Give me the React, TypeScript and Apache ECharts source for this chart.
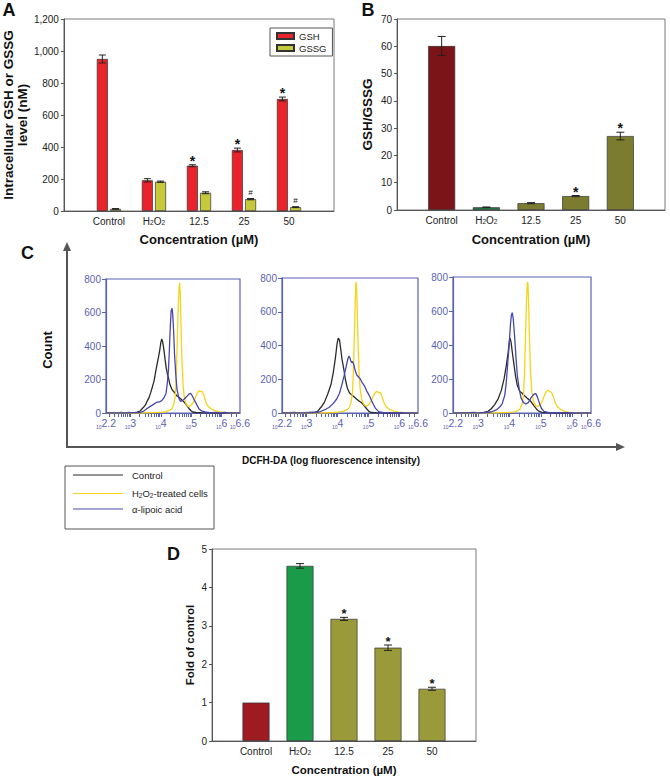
import React, { useEffect, useRef } from 'react';
import * as echarts from 'echarts';

// ---------- DATA ----------
const categories = ['Control', 'H2O2', '12.5', '25', '50'];

const gshValues = [950, 192, 283, 381, 700];
const gshErrors = [25, 10, 6, 12, 12];
const gshMarks = ['', '', '*', '*', '*'];
const gssgValues = [13, 183, 114, 74, 24];
const gssgErrors = [2, 4, 6, 4, 3];
const gssgMarks = ['', '', '', '#', '#'];

const ratioValues = [60.1, 1.0, 2.5, 5.1, 27.1];
const ratioErrors = [3.5, 0.1, 0.2, 0.2, 1.4];
const ratioMarks = ['', '', '', '*', '*'];

const foldValues = [1.0, 4.56, 3.18, 2.43, 1.36];
const foldErrors = [0, 0.06, 0.04, 0.07, 0.04];
const foldMarks = ['', '', '*', '*', '*'];

const flowXLabels = [2.2, 3, 4, 5, 6, 6.6];

// [log10 fluorescence, count]
const control1 = [[2.2,0],[2.45,2],[2.55,0],[2.7,4],[2.8,1],[2.95,3],[3.1,1],[3.22,5],[3.32,12],[3.43,34],[3.5,50],[3.56,74],[3.62,95],[3.67,123],[3.73,160],[3.78,193],[3.83,245],[3.88,293],[3.93,340],[3.97,382],[4.0,420],[4.03,442],[4.06,425],[4.1,380],[4.14,320],[4.18,265],[4.22,230],[4.25,210],[4.3,170],[4.36,143],[4.42,128],[4.47,118],[4.52,103],[4.58,95],[4.63,88],[4.68,80],[4.75,68],[4.83,52],[4.88,38],[4.94,24],[5.0,12],[5.05,6],[5.15,3],[5.4,1],[5.7,0],[6.6,0]];
const h2o2Cells1 = [[2.2,0],[3.5,0],[3.7,2],[3.9,4],[4.05,5],[4.14,6],[4.25,14],[4.36,24],[4.43,54],[4.48,113],[4.51,233],[4.54,432],[4.57,631],[4.6,750],[4.62,778],[4.64,710],[4.66,551],[4.69,332],[4.73,173],[4.77,94],[4.83,54],[4.9,38],[4.98,44],[5.07,64],[5.14,94],[5.21,123],[5.26,133],[5.32,127],[5.36,129],[5.42,103],[5.48,64],[5.56,38],[5.67,24],[5.78,14],[5.94,6],[6.16,2],[6.4,0],[6.6,0]];
const lipoic1 = [[2.2,0],[2.9,0],[3.1,2],[3.29,2],[3.43,10],[3.53,24],[3.64,38],[3.75,50],[3.86,64],[3.95,66],[4.03,74],[4.1,90],[4.17,117],[4.21,173],[4.25,253],[4.28,372],[4.31,511],[4.34,611],[4.37,625],[4.39,591],[4.42,491],[4.45,352],[4.49,233],[4.53,143],[4.59,90],[4.64,70],[4.71,74],[4.77,84],[4.85,98],[4.92,113],[4.98,117],[5.03,103],[5.1,78],[5.18,50],[5.25,26],[5.34,12],[5.45,6],[5.61,2],[5.8,4],[5.95,1],[6.1,3],[6.25,0],[6.6,0]];

const control2 = [[2.2,0],[2.6,3],[2.75,0],[2.9,2],[3.1,4],[3.25,3],[3.35,10],[3.46,34],[3.57,63],[3.68,113],[3.79,172],[3.86,241],[3.93,330],[3.98,409],[4.02,443],[4.06,433],[4.1,379],[4.14,320],[4.2,260],[4.25,200],[4.31,150],[4.38,120],[4.44,110],[4.52,98],[4.6,85],[4.68,72],[4.77,62],[4.85,45],[4.94,25],[5.01,10],[5.08,3],[5.3,1],[5.6,0],[6.6,0]];
const h2o2Cells2 = [[2.2,0],[3.6,0],[3.8,3],[4.0,5],[4.15,8],[4.26,15],[4.36,28],[4.43,58],[4.48,120],[4.51,250],[4.54,450],[4.57,650],[4.59,775],[4.61,760],[4.63,640],[4.66,420],[4.69,250],[4.73,140],[4.78,80],[4.85,50],[4.93,40],[5.0,48],[5.08,70],[5.15,100],[5.22,122],[5.28,128],[5.33,120],[5.38,122],[5.44,95],[5.5,60],[5.58,36],[5.68,22],[5.8,12],[5.95,5],[6.2,2],[6.6,0]];
const lipoic2 = [[2.2,0],[3.0,0],[3.2,3],[3.41,6],[3.57,18],[3.73,34],[3.86,57],[3.97,83],[4.06,117],[4.13,162],[4.21,221],[4.27,271],[4.33,320],[4.37,338],[4.4,325],[4.44,300],[4.48,305],[4.52,288],[4.57,250],[4.62,225],[4.67,215],[4.72,205],[4.78,185],[4.84,168],[4.88,156],[4.94,130],[5.0,112],[5.04,98],[5.1,72],[5.16,50],[5.21,32],[5.26,20],[5.33,8],[5.45,3],[5.7,1],[6.0,2],[6.3,0],[6.6,0]];

const control3 = [[2.2,0],[2.5,2],[2.7,0],[2.85,3],[3.05,1],[3.2,4],[3.32,10],[3.42,25],[3.53,49],[3.64,84],[3.74,133],[3.83,202],[3.9,280],[3.96,359],[4.0,427],[4.02,441],[4.05,418],[4.09,359],[4.14,290],[4.19,222],[4.25,163],[4.33,127],[4.4,118],[4.44,107],[4.5,98],[4.57,86],[4.65,75],[4.72,58],[4.79,40],[4.86,24],[4.93,11],[5.04,4],[5.3,1],[5.6,0],[6.6,0]];
const h2o2Cells3 = [[2.2,0],[3.6,0],[3.8,2],[4.0,4],[4.15,7],[4.25,12],[4.33,22],[4.4,50],[4.45,110],[4.48,240],[4.51,440],[4.54,640],[4.57,770],[4.59,760],[4.61,650],[4.64,430],[4.67,250],[4.71,130],[4.76,70],[4.83,45],[4.9,38],[4.98,48],[5.05,72],[5.12,105],[5.18,128],[5.24,133],[5.29,125],[5.34,122],[5.4,95],[5.46,60],[5.54,35],[5.64,20],[5.76,10],[5.92,4],[6.2,1],[6.6,0]];
const lipoic3 = [[2.2,0],[2.6,0],[2.8,2],[3.0,0],[3.2,3],[3.42,6],[3.58,18],[3.69,35],[3.77,55],[3.85,104],[3.9,182],[3.94,280],[3.99,398],[4.03,516],[4.06,575],[4.09,590],[4.12,555],[4.17,437],[4.21,320],[4.25,222],[4.31,143],[4.37,88],[4.45,61],[4.52,53],[4.6,61],[4.67,84],[4.73,100],[4.79,112],[4.84,114],[4.89,95],[4.96,55],[5.02,28],[5.1,10],[5.23,4],[5.5,1],[5.8,2],[6.1,0],[6.6,0]];

// ---------- STYLE ----------
const FONT = '"Liberation Sans", Arial, Helvetica, sans-serif';
const BLUE = '#5a62b3';
const AXIS = '#555';
const BOX = '#7a7a7a';
const TXT = '#222';
const ratioColors = ['#7a1418', '#1d7a3d', '#7c7c30', '#7c7c30', '#7c7c30'];
const foldColors = ['#9e1b22', '#1a9b4a', '#9a9a3a', '#9a9a3a', '#9a9a3a'];
const flowColors = { control: '#2a2a2a', h2o2: '#f6d41a', lipoic: '#4747ab' };

const subRich = {
  s: { fontSize: 6.5, verticalAlign: 'bottom', lineHeight: 7, color: TXT, fontFamily: FONT },
};

function catLabel(v: string) {
  return v === 'H2O2' ? 'H{s|2}O{s|2}' : v;
}

function catXAxis(gridIndex: number, nameGap: number, nameSize: number) {
  return {
    type: 'category',
    gridIndex,
    data: ['', ...categories, ''],
    boundaryGap: false,
    axisLine: { lineStyle: { color: AXIS, width: 1 } },
    axisTick: { show: false },
    axisLabel: { fontSize: 10, color: TXT, fontFamily: FONT, margin: 5, interval: 0, formatter: catLabel, rich: subRich },
    splitLine: { show: false },
    name: 'Concentration (µM)',
    nameLocation: 'middle',
    nameGap,
    nameTextStyle: { fontSize: nameSize, fontWeight: 'bold', color: '#111', fontFamily: FONT },
  };
}

function valYAxis(gridIndex: number, max: number, interval: number, name: string, nameGap: number, nameSize: number, lineHeight: number, formatter?: any) {
  return {
    type: 'value',
    gridIndex,
    min: 0,
    max,
    interval,
    axisLine: { show: true, lineStyle: { color: AXIS, width: 1 } },
    axisTick: { show: true, length: 3, lineStyle: { color: AXIS } },
    axisLabel: { fontSize: 10, color: TXT, fontFamily: FONT, margin: 5, formatter },
    splitLine: { show: false },
    name,
    nameLocation: 'middle',
    nameRotate: 90,
    nameGap,
    nameTextStyle: { fontSize: nameSize, fontWeight: 'bold', color: '#111', fontFamily: FONT, lineHeight },
  };
}

function errorSeries(axisIndex: number, values: number[], errors: number[], marks: string[], offset: number, capHalf: number, markSize: number) {
  return {
    type: 'custom',
    xAxisIndex: axisIndex,
    yAxisIndex: axisIndex,
    z: 5,
    clip: false,
    silent: true,
    data: values.map((v, i) => [i + 1, v, errors[i]]),
    renderItem: (params: any, api: any) => {
      const x = api.value(0);
      const v = api.value(1);
      const e = api.value(2);
      const top = api.coord([x, v + e]);
      const bot = api.coord([x, v - e]);
      const cx = top[0] + offset;
      const children: any[] = [];
      const st = { stroke: '#222', lineWidth: 1 };
      if (e > 0) {
        children.push({ type: 'line', shape: { x1: cx, y1: top[1], x2: cx, y2: bot[1] }, style: st });
        children.push({ type: 'line', shape: { x1: cx - capHalf, y1: top[1], x2: cx + capHalf, y2: top[1] }, style: st });
        children.push({ type: 'line', shape: { x1: cx - capHalf, y1: bot[1], x2: cx + capHalf, y2: bot[1] }, style: st });
      }
      const mark = marks[params.dataIndex];
      if (mark) {
        const isStar = mark === '*';
        children.push({
          type: 'text',
          x: cx,
          y: top[1] - (isStar ? 4 : 6),
          style: {
            text: mark,
            fill: '#111',
            font: `${isStar ? 'bold ' : ''}${isStar ? markSize : 8}px ${FONT}`,
            align: 'center',
            verticalAlign: 'middle',
          },
        });
      }
      return { type: 'group', children };
    },
  };
}

const flowTicks: number[] = [];
for (let k = 2; k <= 6; k++) {
  for (let m = 1; m <= 9; m++) {
    const t = Math.log10(m) + k;
    if (t > 2.2 + 1e-6 && t < 6.6 - 1e-6) flowTicks.push(t);
  }
}

function flowXAxis(gridIndex: number) {
  return {
    type: 'value',
    gridIndex,
    min: 2.2,
    max: 6.6,
    axisLine: { show: true, lineStyle: { color: BLUE, width: 1.2 } },
    axisTick: { show: true, customValues: flowTicks, length: 4, lineStyle: { color: BLUE, width: 1 } },
    axisLabel: {
      customValues: flowXLabels,
      margin: 4,
      formatter: (v: number) => `{a|10}{b|${v}}`,
      rich: {
        a: { fontSize: 5, verticalAlign: 'bottom', lineHeight: 6, color: BLUE, fontFamily: FONT },
        b: { fontSize: 10.5, lineHeight: 12, color: BLUE, fontFamily: FONT },
      },
    },
    splitLine: { show: false },
  };
}

function flowYAxis(gridIndex: number) {
  return {
    type: 'value',
    gridIndex,
    min: 0,
    max: 800,
    interval: 200,
    axisLine: { show: true, lineStyle: { color: BLUE, width: 1.2 } },
    axisTick: { show: true, length: 4, lineStyle: { color: BLUE } },
    axisLabel: { fontSize: 10, color: BLUE, fontFamily: FONT, margin: 5 },
    splitLine: { show: false },
  };
}

function flowLine(axisIndex: number, name: string, data: number[][], color: string) {
  return {
    type: 'line',
    name,
    xAxisIndex: axisIndex,
    yAxisIndex: axisIndex,
    data,
    showSymbol: false,
    symbol: 'none',
    smooth: false,
    lineStyle: { color, width: 1.3 },
    itemStyle: { color },
    silent: true,
  };
}

function letter(text: string, x: number, y: number) {
  return {
    type: 'text',
    x,
    y,
    style: { text, font: `bold 18px ${FONT}`, fill: '#111', align: 'center', verticalAlign: 'middle' },
  };
}

const App: React.FC = () => {
  const ref = useRef<HTMLDivElement>(null);

  useEffect(() => {
    if (!ref.current) return;
    const chart = echarts.init(ref.current, undefined, { renderer: 'svg' });

    const barBorder = { borderColor: '#333', borderWidth: 0.7 };

    const option: any = {
      animation: false,
      backgroundColor: '#fff',
      textStyle: { fontFamily: FONT },
      grid: [
        { left: 59, top: 19, width: 275, height: 192, show: true, borderColor: BOX, borderWidth: 1, backgroundColor: 'transparent' },
        { left: 397, top: 19, width: 268, height: 191, show: true, borderColor: BOX, borderWidth: 1, backgroundColor: 'transparent' },
        { left: 106, top: 279, width: 134, height: 134, show: true, borderColor: BLUE, borderWidth: 1.2, backgroundColor: 'transparent' },
        { left: 282, top: 278, width: 136, height: 135, show: true, borderColor: BLUE, borderWidth: 1.2, backgroundColor: 'transparent' },
        { left: 453, top: 277, width: 138, height: 136, show: true, borderColor: BLUE, borderWidth: 1.2, backgroundColor: 'transparent' },
        { left: 212, top: 549, width: 264, height: 193, show: true, borderColor: BOX, borderWidth: 1, backgroundColor: 'transparent' },
      ],
      xAxis: [
        catXAxis(0, 22, 13),
        catXAxis(1, 22.5, 13),
        flowXAxis(2),
        flowXAxis(3),
        flowXAxis(4),
        catXAxis(5, 23, 11.5),
      ],
      yAxis: [
        valYAxis(0, 1200, 200, 'Intracellular GSH or GSSG\nlevel (nM)', 28, 13.5, 14.5, (v: number) => v.toLocaleString('en-US')),
        valYAxis(1, 70, 10, 'GSH/GSSG', 23, 13.5, 14),
        flowYAxis(2),
        flowYAxis(3),
        flowYAxis(4),
        valYAxis(5, 5, 1, 'Fold of control', 16, 11.5, 12),
      ],
      legend: {
        data: ['GSH', 'GSSG'],
        orient: 'vertical',
        left: 270,
        top: 28,
        icon: 'rect',
        itemWidth: 17,
        itemHeight: 6,
        itemGap: 2,
        padding: [3, 6, 3, 6],
        borderColor: '#555',
        borderWidth: 1,
        textStyle: { fontSize: 9.5, color: TXT, fontFamily: FONT },
      },
      series: [
        {
          type: 'bar', name: 'GSH', xAxisIndex: 0, yAxisIndex: 0, barWidth: 11, barGap: '20%',
          data: [null, ...gshValues, null],
          itemStyle: { color: '#e8232b', ...barBorder },
        },
        {
          type: 'bar', name: 'GSSG', xAxisIndex: 0, yAxisIndex: 0, barWidth: 11, barGap: '20%',
          data: [null, ...gssgValues, null],
          itemStyle: { color: '#c6c93a', ...barBorder },
        },
        errorSeries(0, gshValues, gshErrors, gshMarks, -6.6, 3.5, 14),
        errorSeries(0, gssgValues, gssgErrors, gssgMarks, 6.6, 3.5, 14),
        {
          type: 'bar', name: 'GSH/GSSG ratio', xAxisIndex: 1, yAxisIndex: 1, barWidth: 27,
          data: [null, ...ratioValues.map((v, i) => ({ value: v, itemStyle: { color: ratioColors[i] } })), null],
          itemStyle: barBorder,
        },
        errorSeries(1, ratioValues, ratioErrors, ratioMarks, 0, 4, 14),
        flowLine(2, 'Control', control1, flowColors.control),
        flowLine(2, 'H2O2-treated cells', h2o2Cells1, flowColors.h2o2),
        flowLine(2, 'α-lipoic acid', lipoic1, flowColors.lipoic),
        flowLine(3, 'Control', control2, flowColors.control),
        flowLine(3, 'H2O2-treated cells', h2o2Cells2, flowColors.h2o2),
        flowLine(3, 'α-lipoic acid', lipoic2, flowColors.lipoic),
        flowLine(4, 'Control', control3, flowColors.control),
        flowLine(4, 'H2O2-treated cells', h2o2Cells3, flowColors.h2o2),
        flowLine(4, 'α-lipoic acid', lipoic3, flowColors.lipoic),
        {
          type: 'bar', name: 'Fold of control', xAxisIndex: 5, yAxisIndex: 5, barWidth: 27,
          data: [null, ...foldValues.map((v, i) => ({ value: v, itemStyle: { color: foldColors[i] } })), null],
          itemStyle: barBorder,
        },
        errorSeries(5, foldValues, foldErrors, foldMarks, 0, 4, 13),
      ],
      graphic: [
        letter('A', 9, 10),
        letter('B', 368, 10),
        letter('C', 27.5, 252.5),
        letter('D', 173.5, 554),
        // panel C frame axes
        { type: 'polyline', shape: { points: [[67, 249], [67, 447], [617, 447]] }, style: { stroke: '#555', lineWidth: 2, fill: 'none' } },
        { type: 'polygon', shape: { points: [[67, 242], [63, 251], [71, 251]] }, style: { fill: '#555' } },
        { type: 'polygon', shape: { points: [[625, 447], [616, 443], [616, 451]] }, style: { fill: '#555' } },
        {
          type: 'text', x: 47, y: 350, rotation: Math.PI / 2,
          style: { text: 'Count', font: `bold 13px ${FONT}`, fill: '#111', align: 'center', verticalAlign: 'middle' },
        },
        {
          type: 'text', x: 331, y: 460,
          style: { text: 'DCFH-DA (log fluorescence intensity)', font: `bold 10px ${FONT}`, fill: '#111', align: 'center', verticalAlign: 'middle' },
        },
        // legend of panel C
        { type: 'rect', shape: { x: 65, y: 466, width: 149, height: 63 }, style: { fill: '#fff', stroke: '#555', lineWidth: 1 } },
        { type: 'line', shape: { x1: 73, y1: 475, x2: 123, y2: 475 }, style: { stroke: flowColors.control, lineWidth: 1 } },
        { type: 'line', shape: { x1: 73, y1: 493.5, x2: 123, y2: 493.5 }, style: { stroke: flowColors.h2o2, lineWidth: 1 } },
        { type: 'line', shape: { x1: 73, y1: 509, x2: 123, y2: 509 }, style: { stroke: flowColors.lipoic, lineWidth: 1 } },
        {
          type: 'text', x: 132, y: 475,
          style: { text: 'Control', font: `9.5px ${FONT}`, fill: TXT, verticalAlign: 'middle' },
        },
        {
          type: 'text', x: 132, y: 493.5,
          style: {
            text: 'H{s|2}O{s|2}-treated cells', font: `9.5px ${FONT}`, fill: TXT, verticalAlign: 'middle',
            rich: { s: { fontSize: 6.5, verticalAlign: 'bottom', lineHeight: 7, fill: TXT, fontFamily: FONT } },
          },
        },
        {
          type: 'text', x: 132, y: 509,
          style: { text: 'α-lipoic acid', font: `9.5px ${FONT}`, fill: TXT, verticalAlign: 'middle' },
        },
      ],
    };

    chart.setOption(option);
    return () => {
      chart.dispose();
    };
  }, []);

  return <div ref={ref} style={{ position: 'absolute', left: 0, top: 0, width: 670, height: 777 }} />;
};

export default App;
